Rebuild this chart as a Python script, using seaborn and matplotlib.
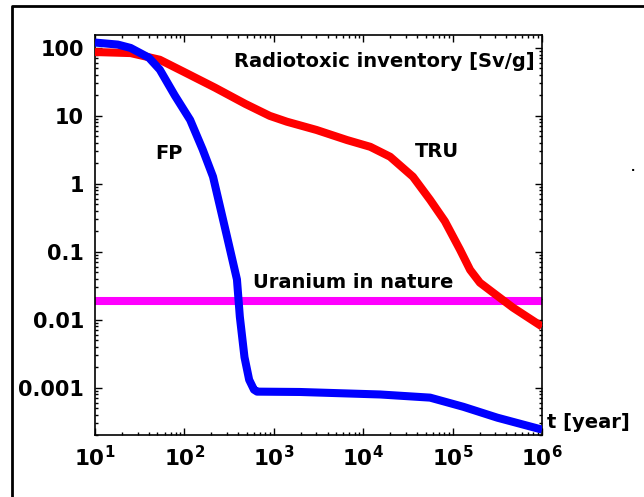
import numpy as np
import pandas as pd
import matplotlib
matplotlib.use("Agg")
import matplotlib.pyplot as plt
import seaborn as sns
from matplotlib.lines import Line2D

# values (time in years, inventory in Sv/g)
t_fp = [10, 18, 25, 40, 53, 78, 116, 160, 209, 300, 387, 417, 470, 530, 600, 650, 1950, 15500, 56000, 132000, 316000, 1e6]
fp = [120, 112, 100, 72, 48, 20, 8.7, 3.2, 1.27, 0.166, 0.039, 0.011, 0.0028, 0.0013, 0.00093, 0.00087, 0.00086,
      0.00079, 0.00071, 0.00052, 0.00036, 0.00024]

t_tru = [10, 25, 53, 100, 220, 480, 900, 1400, 3000, 6600, 12000, 20000, 36000, 56000, 82000,
         121000, 157000, 202000, 283000, 474000, 1e6]
tru = [87, 84, 67, 44, 26, 15, 10, 8.2, 6.2, 4.4, 3.5, 2.5, 1.27, 0.58, 0.28,
       0.107, 0.054, 0.035, 0.025, 0.015, 0.0079]

t_u = [10, 1e6]
uranium = [0.019, 0.019]

y_ticks = [100, 10, 1, 0.1, 0.01, 0.001]
y_labels = ['100', '10', '1', '0.1', '0.01', '0.001']
x_ticks = [1e1, 1e2, 1e3, 1e4, 1e5, 1e6]
x_labels = [r'$\mathbf{10^{%d}}$' % i for i in range(1, 7)]

df_fp = pd.DataFrame({'t': t_fp, 'v': fp})
df_tru = pd.DataFrame({'t': t_tru, 'v': tru})
df_u = pd.DataFrame({'t': t_u, 'v': uranium})

sns.set_style("ticks")
plt.rcParams['font.family'] = ['DejaVu Sans']
plt.rcParams['font.weight'] = 'bold'
plt.rcParams['text.color'] = 'black'
plt.rcParams['xtick.color'] = 'black'
plt.rcParams['ytick.color'] = 'black'
plt.rcParams['axes.edgecolor'] = 'black'

fig = plt.figure(figsize=(6.44, 4.97), dpi=100)
ax = fig.add_axes([95 / 644, 1 - 435 / 497, 447 / 644, 400 / 497])

kw = dict(linewidth=5.8, solid_capstyle='butt', solid_joinstyle='round')
sns.lineplot(data=df_u, x='t', y='v', ax=ax, color='#ff00ff', zorder=2, **kw)
sns.lineplot(data=df_tru, x='t', y='v', ax=ax, color='#ff0000', zorder=3, **kw)
sns.lineplot(data=df_fp, x='t', y='v', ax=ax, color='#0000ff', zorder=4, **kw)

ax.set_xscale('log')
ax.set_yscale('log')
ax.set_xlim(10, 1e6)
ax.set_ylim(2.0e-4, 155)
ax.set_xlabel('')
ax.set_ylabel('')
ax.set_xticks(x_ticks)
ax.set_xticklabels(x_labels, fontsize=15.5)
ax.set_yticks(y_ticks)
ax.set_yticklabels(y_labels, fontsize=15, fontweight='bold')
ax.tick_params(which='both', direction='in', top=True, right=True, width=1)
ax.tick_params(which='major', length=5)
ax.tick_params(axis='y', which='major', pad=8)
ax.tick_params(axis='x', which='major', pad=7)
ax.tick_params(which='minor', length=2.5)
for s in ax.spines.values():
    s.set_linewidth(1.2)

tk = dict(fontsize=14, fontweight='bold', color='black', transform=ax.transAxes)
ax.text(0.984, 0.9325, 'Radiotoxic inventory [Sv/g]', ha='right', va='center', **tk)
ax.text(0.1655, 0.7025, 'FP', ha='center', va='center', **tk)
ax.text(0.765, 0.7075, 'TRU', ha='center', va='center', **tk)
ax.text(0.353, 0.38, 'Uranium in nature', ha='left', va='center', **tk)
ax.text(1.011, 0.03, 't [year]', ha='left', va='center', clip_on=False, **tk)

# outer frame, cut off on the right and bottom
fig.add_artist(Line2D([12 / 644, 12 / 644, 1.0], [0.0, 1 - 6 / 497, 1 - 6 / 497],
                      transform=fig.transFigure, color='black', linewidth=2))
fig.text(633 / 644, 1 - 168 / 497, '.', fontsize=8, ha='center', va='center')

fig.savefig('out.png', dpi=100)
